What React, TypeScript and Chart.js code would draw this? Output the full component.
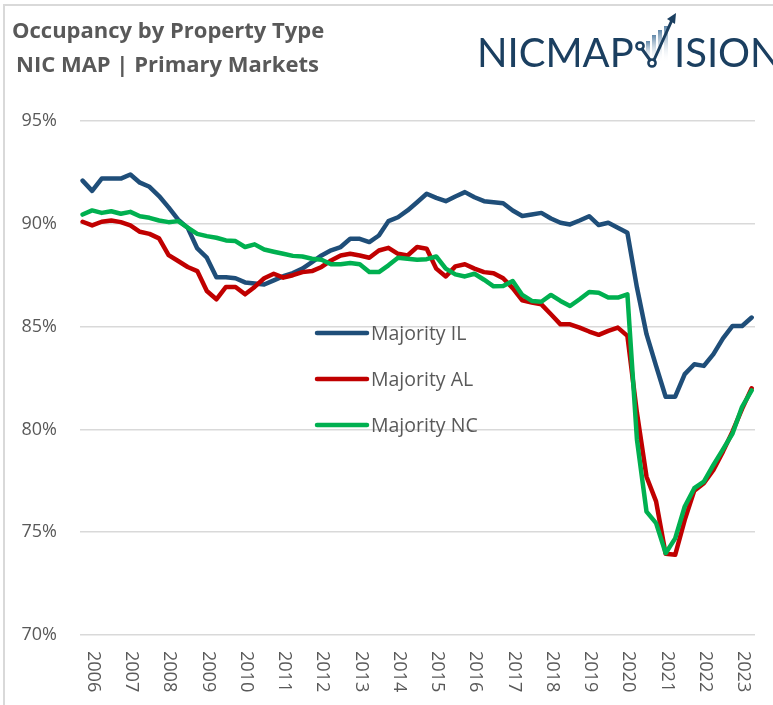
import { useEffect, useRef } from 'react';
import { Chart, registerables } from 'chart.js';

Chart.register(...registerables);

// ---- data ----
const yearTicks = ['2006', '2007', '2008', '2009', '2010', '2011', '2012', '2013', '2014', '2015', '2016', '2017', '2018', '2019', '2020', '2021', '2022', '2023'];
const quarters = ['2005 Q4', ...yearTicks.flatMap((y) => ['Q1', 'Q2', 'Q3', 'Q4'].map((q) => `${y} ${q}`))].slice(0, 71);

const seriesNames = ['Majority IL', 'Majority AL', 'Majority NC'];
const seriesColors = ['#1F4E79', '#C00000', '#00B050'];

const majorityIL = [
  92.1, 91.6, 92.2, 92.2, 92.2, 92.4, 92.0, 91.8, 91.35, 90.8, 90.2, 89.8, 88.8, 88.35, 87.4, 87.4, 87.35, 87.15, 87.1, 87.05, 87.25, 87.45, 87.6,
  87.82, 88.14, 88.46, 88.71, 88.87, 89.27, 89.27, 89.11, 89.43, 90.13, 90.32, 90.65, 91.05, 91.46, 91.26, 91.1, 91.33, 91.54, 91.29, 91.1, 91.05,
  91.0, 90.65, 90.38, 90.45, 90.53, 90.26, 90.05, 89.97, 90.16, 90.37, 89.94, 90.05, 89.81, 89.56,
  86.9, 84.63, 83.09, 81.59, 81.59, 82.69, 83.17, 83.09, 83.66, 84.43, 85.03, 85.03, 85.44,
];
const majorityAL = [
  90.1, 89.92, 90.1, 90.16, 90.08, 89.92, 89.61, 89.51, 89.29, 88.48, 88.19, 87.9, 87.7, 86.73, 86.33, 86.93, 86.93, 86.57, 86.93, 87.35, 87.57, 87.38, 87.5,
  87.65, 87.7, 87.9, 88.22, 88.46, 88.54, 88.46, 88.35, 88.7, 88.83, 88.54, 88.46, 88.87, 88.79, 87.82, 87.44, 87.93, 88.03, 87.82, 87.65, 87.6,
  87.35, 86.87, 86.28, 86.17, 86.08, 85.6, 85.11, 85.11, 84.95, 84.76, 84.6, 84.79, 84.95, 84.55,
  80.8, 77.7, 76.5, 73.95, 73.9, 75.6, 77.02, 77.38, 78.03, 78.92, 79.9, 81.0, 82.0,
];
const majorityNC = [
  90.45, 90.65, 90.53, 90.61, 90.49, 90.58, 90.37, 90.29, 90.16, 90.08, 90.13, 89.81, 89.51, 89.4, 89.32, 89.19, 89.16, 88.87, 89.0, 88.75, 88.64, 88.54, 88.44,
  88.41, 88.3, 88.25, 88.03, 88.03, 88.09, 88.03, 87.65, 87.65, 87.98, 88.35, 88.3, 88.25, 88.28, 88.41, 87.82, 87.54, 87.44, 87.57, 87.28, 86.96,
  86.98, 87.22, 86.54, 86.25, 86.21, 86.54, 86.25, 86.0, 86.33, 86.68, 86.65, 86.41, 86.41, 86.57,
  79.5, 76.0, 75.44, 73.98, 74.7, 76.25, 77.14, 77.46, 78.27, 79.03, 79.8, 81.1, 81.9,
];
const yMin = 70;
const yMax = 95;
const yStep = 5;

const titleLines = ['Occupancy by Property Type', 'NIC MAP | Primary Markets'];

const FONT = '"Open Sans", "Noto Sans", sans-serif';
const GRAY = '#595959';

const decorPlugin = {
  id: 'decor',
  beforeDraw(chart: any) {
    const ctx = chart.ctx;
    ctx.save();
    ctx.fillStyle = '#ffffff';
    ctx.fillRect(0, 0, chart.width, chart.height);
    // frame
    ctx.strokeStyle = '#D9D9D9';
    ctx.lineWidth = 2;
    ctx.beginPath();
    ctx.moveTo(4, chart.height);
    ctx.lineTo(4, 5);
    ctx.lineTo(chart.width, 5);
    ctx.stroke();
    ctx.restore();
  },
  afterDatasetsDraw(chart: any) {
    const ctx = chart.ctx;
    ctx.save();
    // legend
    chart.data.datasets.forEach((ds: any, i: number) => {
      const y = 333 + 46 * i;
      ctx.strokeStyle = ds.borderColor;
      ctx.lineWidth = 4.5;
      ctx.lineCap = 'round';
      ctx.beginPath();
      ctx.moveTo(317, y);
      ctx.lineTo(367, y);
      ctx.stroke();
      ctx.fillStyle = GRAY;
      ctx.font = `19.5px ${FONT}`;
      ctx.textBaseline = 'middle';
      ctx.textAlign = 'left';
      ctx.fillText(ds.label, 371, y + 1);
    });
    ctx.restore();
  },
  afterDraw(chart: any) {
    const ctx = chart.ctx;
    const xs = chart.scales.x;
    ctx.save();
    // x labels rotated 90deg clockwise
    ctx.fillStyle = GRAY;
    ctx.font = `18px ${FONT}`;
    ctx.textAlign = 'left';
    ctx.textBaseline = 'middle';
    yearTicks.forEach((lab) => {
      const idx = quarters.indexOf(`${lab} Q1`);
      const x = xs.getPixelForValue(idx);
      ctx.save();
      ctx.translate(x + 1, 651);
      ctx.rotate(Math.PI / 2);
      ctx.fillText(lab, 0, 0);
      ctx.restore();
    });
    // title
    ctx.fillStyle = GRAY;
    ctx.font = `bold 22px ${FONT}`;
    ctx.textBaseline = 'alphabetic';
    ctx.fillText(titleLines[0], 12, 38);
    ctx.fillText(titleLines[1], 16, 72);
    // logo
    const navy = '#1B3F60';
    ctx.fillStyle = navy;
    ctx.font = `400 40px Lato, ${FONT}`;
    ctx.fillText('NICMAP', 477, 67);
    ctx.fillText('ISION', 674, 67);
    // bars
    const bars = [[646, 41], [652, 35], [658, 30], [664, 26]];
    bars.forEach(([bx, top]) => {
      const g = ctx.createLinearGradient(0, top, 0, 62);
      g.addColorStop(0, '#5F86A8');
      g.addColorStop(1, 'rgba(255,255,255,0)');
      ctx.fillStyle = g;
      ctx.fillRect(bx, top, 4, 62 - top);
    });
    ctx.strokeStyle = navy;
    ctx.lineWidth = 3;
    ctx.lineCap = 'round';
    ctx.beginPath();
    ctx.moveTo(642, 49);
    ctx.lineTo(650, 60);
    ctx.stroke();
    ctx.beginPath();
    ctx.moveTo(654, 60);
    ctx.lineTo(672, 20);
    ctx.stroke();
    ctx.lineWidth = 2.5;
    ctx.beginPath();
    ctx.arc(640, 46, 3.6, 0, Math.PI * 2);
    ctx.stroke();
    ctx.beginPath();
    ctx.arc(652, 63, 3.6, 0, Math.PI * 2);
    ctx.stroke();
    ctx.fillStyle = navy;
    ctx.beginPath();
    ctx.moveTo(676, 13);
    ctx.lineTo(667, 19);
    ctx.lineTo(675, 24);
    ctx.closePath();
    ctx.fill();
    ctx.restore();
  },
};

export default function App() {
  const ref = useRef<HTMLCanvasElement>(null);
  useEffect(() => {
    const series = [majorityIL, majorityAL, majorityNC];
    const chart = new Chart(ref.current as HTMLCanvasElement, {
      type: 'line',
      data: {
        labels: quarters,
        datasets: series.map((vals, i) => ({
          label: seriesNames[i],
          data: vals.map((v, j) => ({ x: j, y: v })),
          borderColor: seriesColors[i],
          backgroundColor: seriesColors[i],
          borderWidth: 4.5,
          pointRadius: 0,
          tension: 0,
          borderCapStyle: 'round',
          borderJoinStyle: 'round',
          order: 2 - i,
        })),
      },
      options: {
        responsive: false,
        animation: false,
        devicePixelRatio: 1,
        layout: { padding: { left: 0, right: 18, top: 121, bottom: 70 } },
        plugins: {
          legend: { display: false },
          tooltip: { enabled: false },
          title: { display: false },
        },
        scales: {
          x: { type: 'linear', display: false, min: -0.27, max: quarters.length - 1 + 0.35 },
          y: {
            min: yMin,
            max: yMax,
            afterFit: (s: any) => {
              s.width = 80;
            },
            grid: { color: '#D9D9D9', lineWidth: 1.5, drawTicks: false },
            border: { display: false },
            ticks: {
              stepSize: yStep,
              padding: 23,
              color: GRAY,
              font: { family: FONT, size: 18 },
              callback: (v: any) => `${v}%`,
            },
          },
        },
      } as any,
      plugins: [decorPlugin],
    });
    return () => chart.destroy();
  }, []);
  return (
    <div style={{ position: 'absolute', left: 0, top: 0, width: 773, height: 705, background: '#fff', overflow: 'hidden' }}>
      <canvas ref={ref} width={773} height={705} style={{ display: 'block', width: 773, height: 705 }} />
    </div>
  );
}
